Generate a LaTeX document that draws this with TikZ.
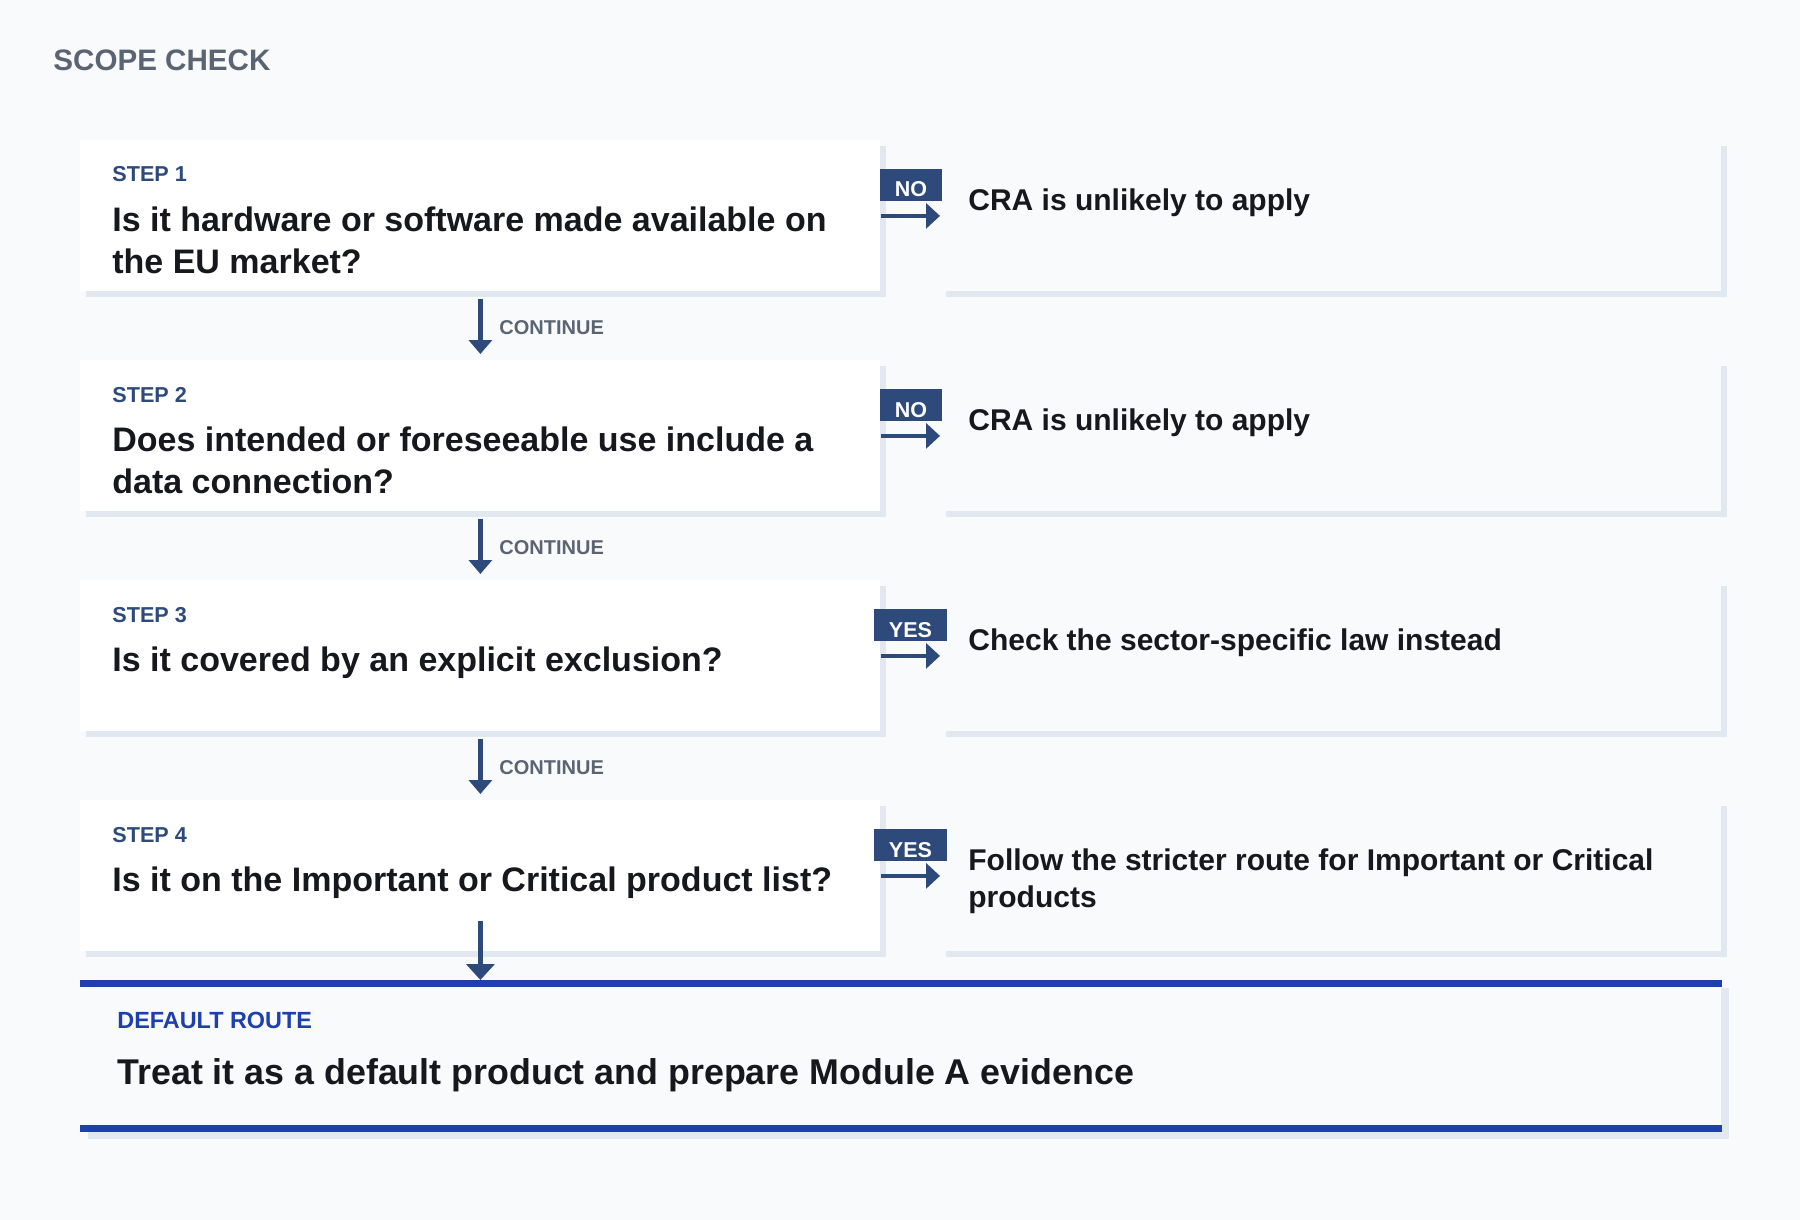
\documentclass[tikz,border=0pt]{standalone}
\usepackage{fontspec}
\setmainfont{Liberation Sans}
\usetikzlibrary{arrows.meta,shadows}
\definecolor{bgc}{HTML}{F8FAFC}
\definecolor{shadowc}{HTML}{E2E8F0}
\definecolor{navy}{HTML}{2E4A7B}
\definecolor{slategray}{HTML}{5B6472}
\definecolor{inkc}{HTML}{16181D}
\definecolor{routeblue}{HTML}{1E40AF}
\begin{document}
\begin{tikzpicture}[x=0.5pt,y=-0.5pt,
  stepbox/.style={draw=none, fill=white, minimum width=400pt, minimum height=75.5pt,
    inner sep=0pt, anchor=north west,
    general shadow={fill=shadowc, shadow xshift=3pt, shadow yshift=-3pt}},
  resultbox/.style={stepbox, fill=bgc, minimum width=390.5pt},
  defaultbox/.style={draw=none, fill=bgc, minimum width=820.5pt, minimum height=75.5pt,
    inner sep=0pt, anchor=north west,
    general shadow={fill=shadowc, shadow xshift=4pt, shadow yshift=-4pt}},
  steplabel/.style={anchor=base west, inner sep=0pt, text=navy,
    font=\fontsize{10.8}{13}\selectfont\bfseries},
  question/.style={anchor=base west, inner sep=0pt, align=left, text=inkc,
    font=\fontsize{17}{21.25}\selectfont\bfseries},
  resulttext/.style={anchor=base west, inner sep=0pt, align=left, text=inkc,
    font=\fontsize{15}{18.85}\selectfont\bfseries},
  badge/.style={fill=navy, text=white, font=\fontsize{10.75}{12}\selectfont\bfseries,
    inner ysep=0pt, inner xsep=7.45pt, text height=14pt, text depth=2pt},
  contlabel/.style={anchor=base west, inner sep=0pt, text=slategray,
    font=\fontsize{10}{12}\selectfont\bfseries},
  sidearrow/.style={navy, line width=2pt, -{Triangle[length=7pt,width=12.5pt]}},
  contarrow/.style={navy, line width=2.2pt, -{Triangle[length=7pt,width=11.5pt]}},
  finalarrow/.style={navy, line width=2.4pt, -{Triangle[length=8pt,width=14pt]}}
]
\fill[bgc] (0,0) rectangle (1800,1220);
\useasboundingbox (0,0) rectangle (1800,1220);

\node[anchor=base west, inner sep=0pt, text=slategray,
  font=\fontsize{14.8}{17}\selectfont\bfseries] (title) at (53,70.7) {SCOPE CHECK};

% step boxes
\node[stepbox] (s1) at (80,140) {};
\node[stepbox] (s2) at (80,360) {};
\node[stepbox] (s3) at (80,580) {};
\node[stepbox] (s4) at (80,800) {};

% result boxes
\node[resultbox] (r1) at (940,140) {};
\node[resultbox] (r2) at (940,360) {};
\node[resultbox] (r3) at (940,580) {};
\node[resultbox] (r4) at (940,800) {};

% default box
\node[defaultbox] (dflt) at (80,980) {};
\fill[routeblue] (dflt.north west) rectangle ([yshift=-3.5pt]dflt.north east);
\fill[routeblue] ([yshift=3.5pt]dflt.south west) rectangle (dflt.south east);

% step texts (base of a two-line node = baseline of its last line)
\node[steplabel] (l1) at (112,182) {STEP 1};
\node[question] (q1) at (112,273.5) {Is it hardware or software made available on\\the EU market?};
\node[steplabel] (l2) at (112,402) {STEP 2};
\node[question] (q2) at (112,493.5) {Does intended or foreseeable use include a\\data connection?};
\node[steplabel] (l3) at (112,622) {STEP 3};
\node[question] (q3) at (112,671) {Is it covered by an explicit exclusion?};
\node[steplabel] (l4) at (112,842) {STEP 4};
\node[question] (q4) at (112,891) {Is it on the Important or Critical product list?};

% result texts
\node[resulttext] (t1) at (968,210) {CRA is unlikely to apply};
\node[resulttext] (t2) at (968,430) {CRA is unlikely to apply};
\node[resulttext] (t3) at (968,650) {Check the sector-specific law instead};
\node[resulttext] (t4) at (968,907.7) {Follow the stricter route for Important or Critical\\products};

% badges
\node[badge] (b1) at (911,185) {NO};
\node[badge] (b2) at (911,405) {NO};
\node[badge] (b3) at (910.5,625) {YES};
\node[badge] (b4) at (910.5,845) {YES};

% side arrows
\draw[sidearrow] (s1.east) -- (r1.west);
\draw[sidearrow] (s2.east) -- (r2.west);
\draw[sidearrow] (s3.east) -- (r3.west);
\draw[sidearrow] (s4.east) -- (r4.west);

% continue arrows
\draw[contarrow] ([yshift=-3.5pt]s1.south) -- ([yshift=3pt]s2.north);
\draw[contarrow] ([yshift=-3.5pt]s2.south) -- ([yshift=3pt]s3.north);
\draw[contarrow] ([yshift=-3.5pt]s3.south) -- ([yshift=3pt]s4.north);
\node[contlabel] (c1) at (499,334) {CONTINUE};
\node[contlabel] (c2) at (499,554) {CONTINUE};
\node[contlabel] (c3) at (499,774) {CONTINUE};

% final arrow
\draw[finalarrow] ([yshift=15.5pt]s4.south) -- (s4.south |- dflt.north);

% default texts
\node[anchor=base west, inner sep=0pt, text=routeblue,
  font=\fontsize{11.7}{14}\selectfont\bfseries] (dl) at (117,1028.3) {DEFAULT ROUTE};
\node[anchor=base west, inner sep=0pt, text=inkc,
  font=\fontsize{17.9}{21}\selectfont\bfseries] (dt) at (117,1084) {Treat it as a default product and prepare Module A evidence};
\end{tikzpicture}
\end{document}
